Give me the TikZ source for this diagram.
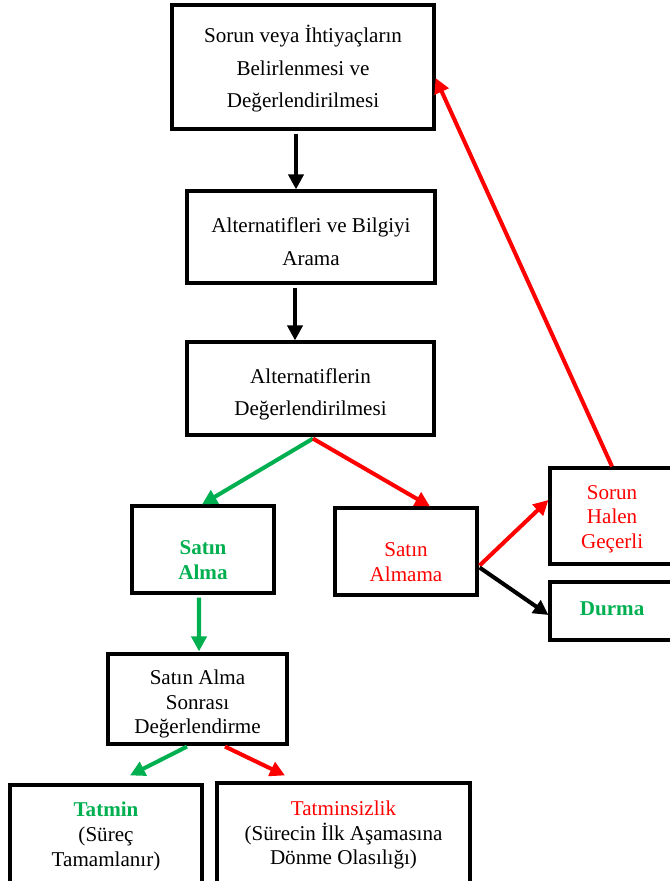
\documentclass[tikz,border=0pt]{standalone}
\usepackage{fontspec}
\setmainfont{Liberation Serif}
\usetikzlibrary{arrows.meta,positioning,calc}
\definecolor{okgreen}{RGB}{0,176,80}
\definecolor{nored}{RGB}{255,0,0}
\newcommand{\lowstrut}[1]{\rule{0pt}{#1}}
\newcommand{\leftlines}[1]{\begin{tabular}{@{}c@{}}#1\end{tabular}\hspace*{9pt}}

\begin{document}
\begin{tikzpicture}[
    x=0.02cm, y=-0.02cm,
    box/.style={rectangle, draw, line width=1.8pt, align=center, inner sep=0pt, font=\fontsize{12}{18.5}\selectfont},
    smallbox/.style={box, font=\fontsize{12}{14}\selectfont},
    arrow/.style={-{Triangle[length=8.5pt,width=8.5pt]}, line width=2.3pt}
]
\useasboundingbox (0,0) rectangle (669,881);

% Main chain
\node[box, minimum width=5.24cm, minimum height=2.48cm] (sorun) at (303,67) {\lowstrut{12pt}Sorun veya İhtiyaçların\\Belirlenmesi ve\\Değerlendirilmesi};
\node[box, minimum width=4.96cm, minimum height=1.84cm] (arama) at (311,237) {\lowstrut{14pt}Alternatifleri ve Bilgiyi\\Arama};
\node[box, minimum width=4.94cm, minimum height=1.86cm] (deger) at (310.5,388.5) {\lowstrut{15pt}Alternatiflerin\\Değerlendirilmesi};

% Decision
\node[smallbox, minimum width=2.84cm, minimum height=1.74cm, text=okgreen, font=\fontsize{12}{14}\selectfont\bfseries] (satin) at (203,549.5) {\lowstrut{20pt}Satın\\Alma};
\node[smallbox, minimum width=2.84cm, minimum height=1.74cm, text=nored] (almama) at (406,551.5) {\lowstrut{20pt}Satın\\Almama};
\node[smallbox, minimum width=2.8cm, minimum height=1.92cm, text=nored] (halen) at (620,516) {\leftlines{\lowstrut{13pt}Sorun\\Halen\\Geçerli}};
\node[smallbox, minimum width=2.8cm, minimum height=1.16cm, text=okgreen, font=\fontsize{12}{14}\selectfont\bfseries] (durma) at (620,611) {\leftlines{Durma}};

% After purchase
\node[smallbox, minimum width=3.58cm, minimum height=1.80cm] (sonra) at (197.5,699) {\lowstrut{14pt}Satın Alma\\Sonrası\\Değerlendirme};
\node[smallbox, minimum width=3.84cm, minimum height=1.96cm] (tatmin) at (106,834) {\lowstrut{11pt}\textcolor{okgreen}{\textbf{Tatmin}}\\(Süreç\\Tamamlanır)};
\node[smallbox, minimum width=5.06cm, minimum height=2.0cm] (tatminsiz) at (343.5,833) {\lowstrut{11pt}\textcolor{nored}{Tatminsizlik}\\(Sürecin İlk Aşamasına\\Dönme Olasılığı)};

% Arrows
\draw[arrow] ($(sorun.south)+(-7,3)$) -- ($(arama.north)+(-15,0)$);
\draw[arrow] ($(arama.south)+(-16,3)$) -- ($(deger.north)+(-15.5,0)$);
\draw[arrow, okgreen] ($(deger.south)+(2.5,2)$) -- ($(satin.north)+(-1,0)$);
\draw[arrow, nored] ($(deger.south)+(2.5,2)$) -- ($(almama.north)+(24,0)$);
\draw[arrow, nored] ($(almama.east)+(1,14)$) -- ($(halen.west)+(0,-16)$);
\draw[arrow] ($(almama.east)+(1,16)$) -- ($(durma.west)+(0,4)$);
\draw[arrow, nored] ($(halen.north)+(-8,0)$) -- ($(sorun.east)+(0,11)$);
\draw[arrow, okgreen] ($(satin.south)+(-4,3)$) -- ($(sonra.north)+(1.5,-1)$);
\draw[arrow, okgreen] ($(sonra.south)+(-10.5,1)$) -- ($(tatmin.north)+(24,-8)$);
\draw[arrow, nored] ($(sonra.south)+(27.5,1)$) -- ($(tatminsiz.north)+(-58.5,-6)$);

\end{tikzpicture}
\end{document}
